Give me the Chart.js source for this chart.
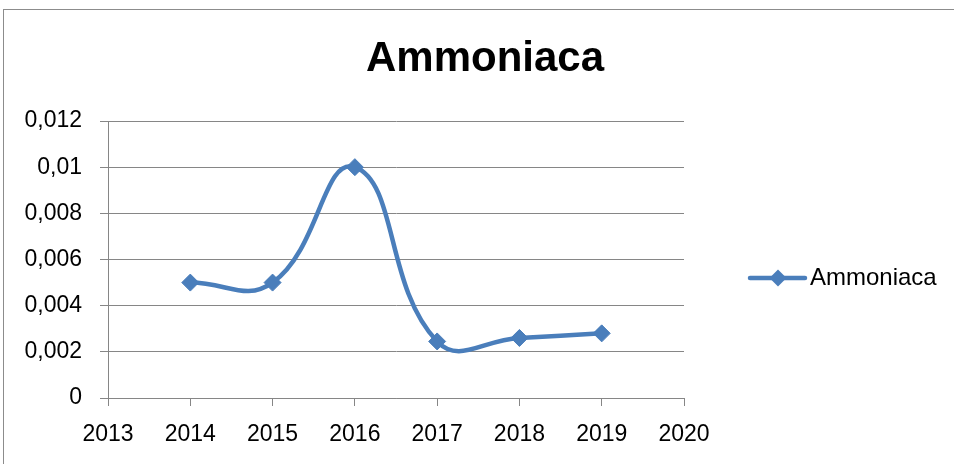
<!DOCTYPE html>
<html>
<head>
<meta charset="utf-8">
<script src="https://cdn.jsdelivr.net/npm/chart.js@4.4.1/dist/chart.umd.min.js"></script>
<style>
  html, body { margin: 0; padding: 0; background: #ffffff; }
  #wrap { width: 954px; height: 464px; position: relative; }
</style>
</head>
<body>
<div id="wrap"><canvas id="c" width="954" height="464"></canvas></div>
<script>
// ---- data ----
const chartTitle = 'Ammoniaca';
const seriesName = 'Ammoniaca';
const years = [2014, 2015, 2016, 2017, 2018, 2019];
const values = [0.005, 0.005, 0.01, 0.00245, 0.0026, 0.0028];
const yTickLabels = ['0', '0,002', '0,004', '0,006', '0,008', '0,01', '0,012'];
const xMin = 2013, xMax = 2020;

const BLUE = '#4a7ebb';
const GRID = '#868686';
const FONT = "'Liberation Sans', Arial, sans-serif";

const framePlugin = {
  id: 'frame',
  beforeDraw(chart) {
    const ctx = chart.ctx;
    ctx.save();
    ctx.fillStyle = '#ffffff';
    ctx.fillRect(0, 0, chart.width, chart.height);
    ctx.strokeStyle = '#8c8c8c';
    ctx.lineWidth = 1;
    ctx.strokeRect(3.5, 9.5, 1200, 1200);
    ctx.restore();
  }
};

const legendPlugin = {
  id: 'customLegend',
  afterDraw(chart) {
    const ctx = chart.ctx;
    const a = chart.chartArea;
    const x0 = a.right + 66;
    const y = (a.top + a.bottom) / 2 + 18.5;
    ctx.save();
    ctx.strokeStyle = BLUE;
    ctx.lineWidth = 4.5;
    ctx.lineCap = 'round';
    ctx.beginPath();
    ctx.moveTo(x0, y);
    ctx.lineTo(x0 + 55, y);
    ctx.stroke();
    ctx.fillStyle = BLUE;
    const cx = x0 + 28, r = 8.5;
    ctx.beginPath();
    ctx.moveTo(cx, y - r);
    ctx.lineTo(cx + r, y);
    ctx.lineTo(cx, y + r);
    ctx.lineTo(cx - r, y);
    ctx.closePath();
    ctx.fill();
    ctx.fillStyle = '#000000';
    ctx.font = '24px ' + FONT;
    ctx.textBaseline = 'middle';
    ctx.textAlign = 'left';
    ctx.fillText(seriesName, x0 + 60, y);
    ctx.restore();
  }
};

new Chart(document.getElementById('c'), {
  type: 'line',
  data: {
    datasets: [{
      label: seriesName,
      data: years.map((yr, i) => ({ x: yr, y: values[i] })),
      borderColor: BLUE,
      backgroundColor: BLUE,
      borderWidth: 4.5,
      tension: 0.45,
      pointStyle: 'rectRot',
      pointRadius: 8.5,
      pointHoverRadius: 8.5,
      pointBorderWidth: 1,
      pointBorderColor: BLUE,
      pointBackgroundColor: BLUE,
      fill: false
    }]
  },
  options: {
    responsive: false,
    animation: false,
    devicePixelRatio: 1,
    layout: { padding: { top: 9, left: 16, right: 0, bottom: 0 } },
    plugins: {
      legend: { display: false },
      tooltip: { enabled: false },
      title: {
        display: true,
        text: chartTitle,
        color: '#000000',
        font: { family: FONT, size: 42, weight: 'bold' },
        padding: { top: 25, bottom: 36.6 }
      }
    },
    scales: {
      x: {
        type: 'linear',
        min: xMin,
        max: xMax,
        afterFit(scale) { scale.height = 66; },
        ticks: {
          stepSize: 1,
          color: '#000000',
          font: { family: FONT, size: 23 },
          padding: 15,
          maxRotation: 0,
          autoSkip: false,
          callback: (v) => String(v)
        },
        grid: {
          display: true,
          drawOnChartArea: false,
          drawTicks: true,
          tickLength: 8,
          color: GRID,
          lineWidth: 1
        },
        border: { display: true, color: GRID, width: 1 }
      },
      y: {
        min: 0,
        max: 0.012,
        afterFit(scale) { scale.width = 92; },
        ticks: {
          stepSize: 0.002,
          color: '#000000',
          font: { family: FONT, size: 23 },
          padding: 18,
          callback: (v, i) => yTickLabels[i]
        },
        grid: {
          display: true,
          drawOnChartArea: true,
          drawTicks: true,
          tickLength: 8,
          color: GRID,
          lineWidth: 1
        },
        border: { display: true, color: GRID, width: 1 }
      },
      legendSpace: {
        type: 'linear',
        position: 'right',
        display: true,
        afterFit(scale) { scale.width = 270; },
        ticks: { display: false },
        grid: { display: false, drawTicks: false },
        border: { display: false }
      }
    }
  },
  plugins: [framePlugin, legendPlugin]
});
</script>
</body>
</html>
